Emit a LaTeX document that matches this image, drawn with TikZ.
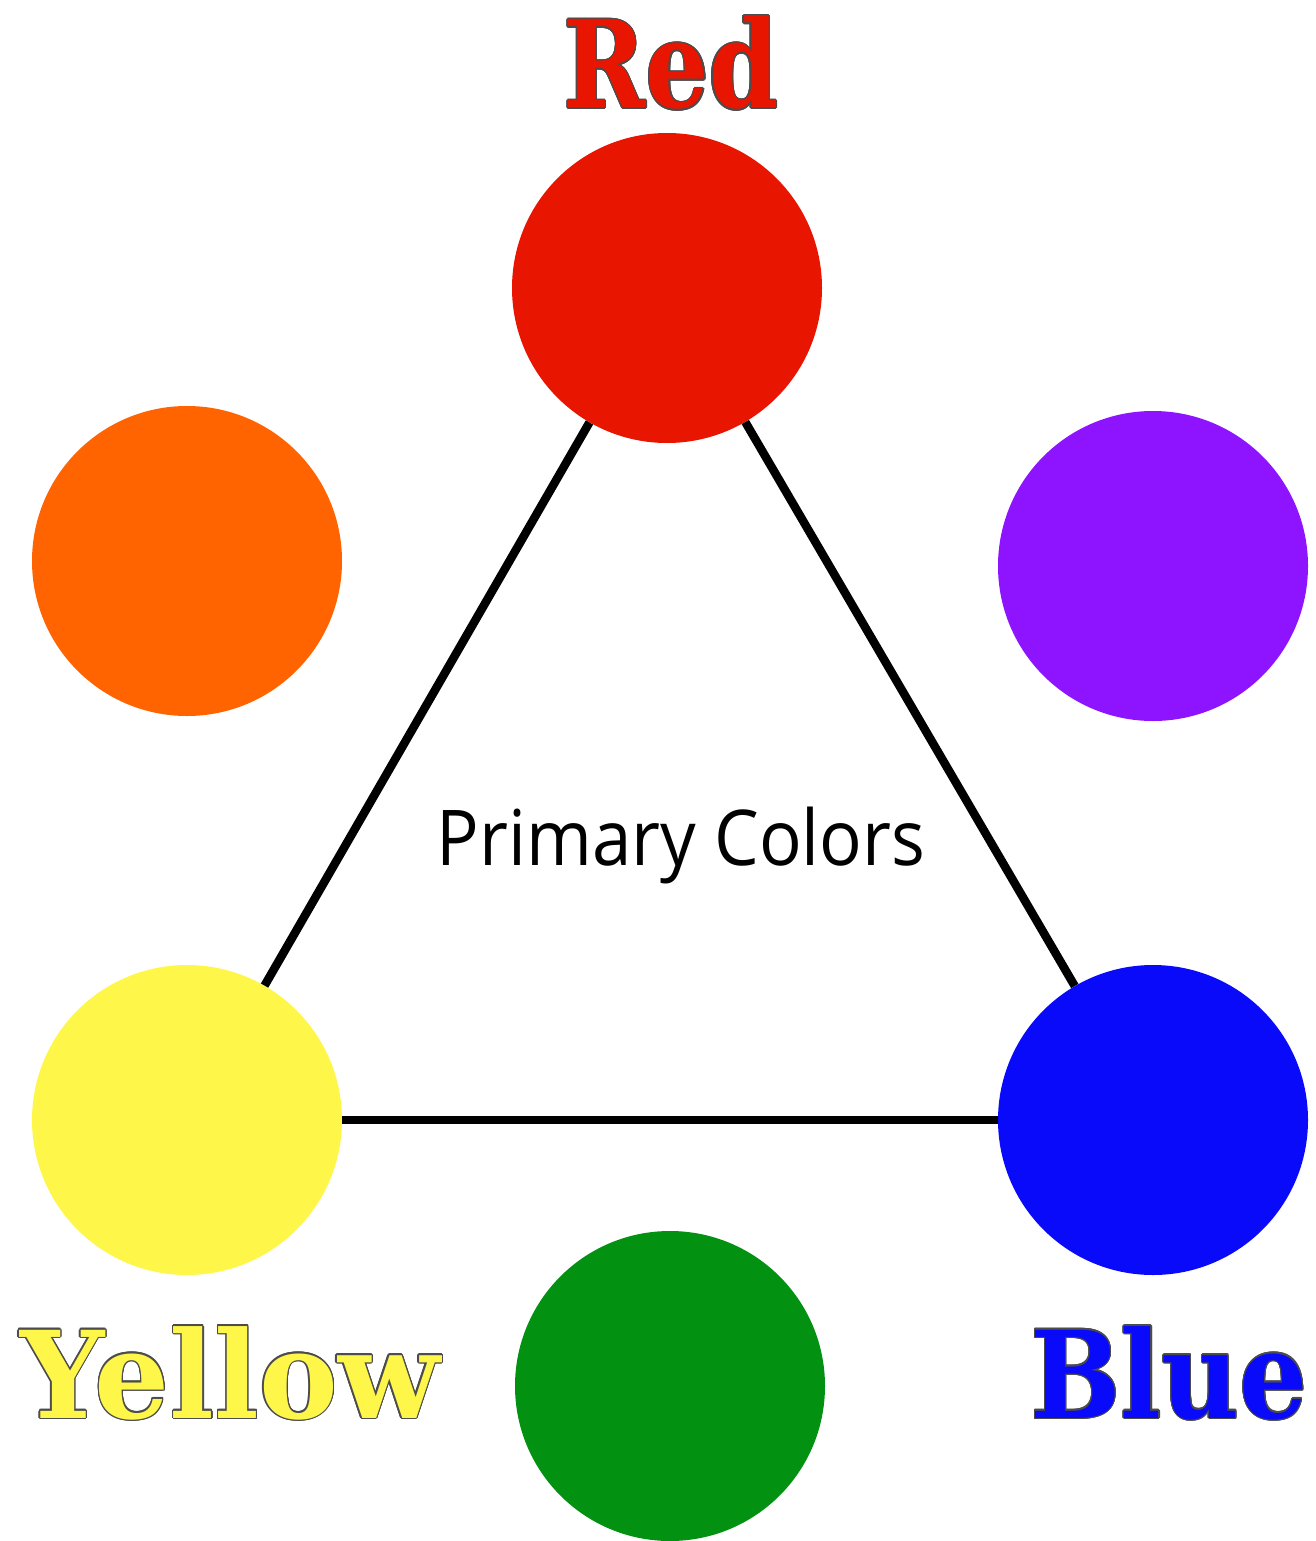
\documentclass[tikz,border=0pt]{standalone}
\usepackage{fontspec}
\usepackage{xcolor}
\usepackage{graphicx}
\usepackage{contour}
\setmainfont{DejaVu Serif}
\newfontfamily\slabfont{DejaVu Serif}[FakeStretch=0.82]
\newfontfamily\captionfont{Open Sans}[FakeStretch=0.92]
\contourlength{1.2pt}
\definecolor{cred}{HTML}{E81500}
\definecolor{corange}{HTML}{FF6400}
\definecolor{cpurple}{HTML}{8E14FF}
\definecolor{cyellow}{HTML}{FFF64A}
\definecolor{cblue}{HTML}{0A0AFA}
\definecolor{cgreen}{HTML}{039112}
\usetikzlibrary{positioning}

\begin{document}
\begin{tikzpicture}[
  x=1pt, y=-1pt,
  dot/.style={circle, minimum size=310pt, inner sep=0pt},
  edge/.style={line width=8.5pt, black},
  colorname/.style={anchor=base, inner sep=0pt,
                    font=\slabfont\bfseries\fontsize{121}{121}\selectfont},
  caption/.style={anchor=base, inner sep=0pt,
                  font=\captionfont\fontsize{77}{77}\selectfont},
]
\useasboundingbox (0,0) rectangle (1316,1541);

% Primary colors
\node[dot, fill=cred] (red) at (667,288) {};
\node[dot, fill=cyellow] (yellow) at (187,1120) {};
\node[dot, fill=cblue] (blue) at (1153,1120) {};

% Secondary colors
\node[dot, fill=corange] (orange) at (187,561) {};
\node[dot, fill=cpurple] (purple) at (1153,566) {};
\node[dot, fill=cgreen] (green) at (670,1386) {};

% Triangle
\draw[edge] (red) -- (yellow);
\draw[edge] (red) -- (blue);
\draw[edge] (yellow) -- (blue);

% Labels
\node[colorname] (redlabel) at (671,108) {\textcolor{cred}{\contour{black!70}{Red}}};
\node[colorname] (yellowlabel) at (230,1418)
  {\scalebox{1.19}[1]{\textcolor{cyellow}{\contour{black!70}{Yellow}}}};
\node[colorname] (bluelabel) at (1169,1418)
  {\scalebox{1.08}[1]{\textcolor{cblue}{\contour{black!70}{Blue}}}};
\node[caption] (title) at (681,865) {Primary Colors};
\end{tikzpicture}
\end{document}
